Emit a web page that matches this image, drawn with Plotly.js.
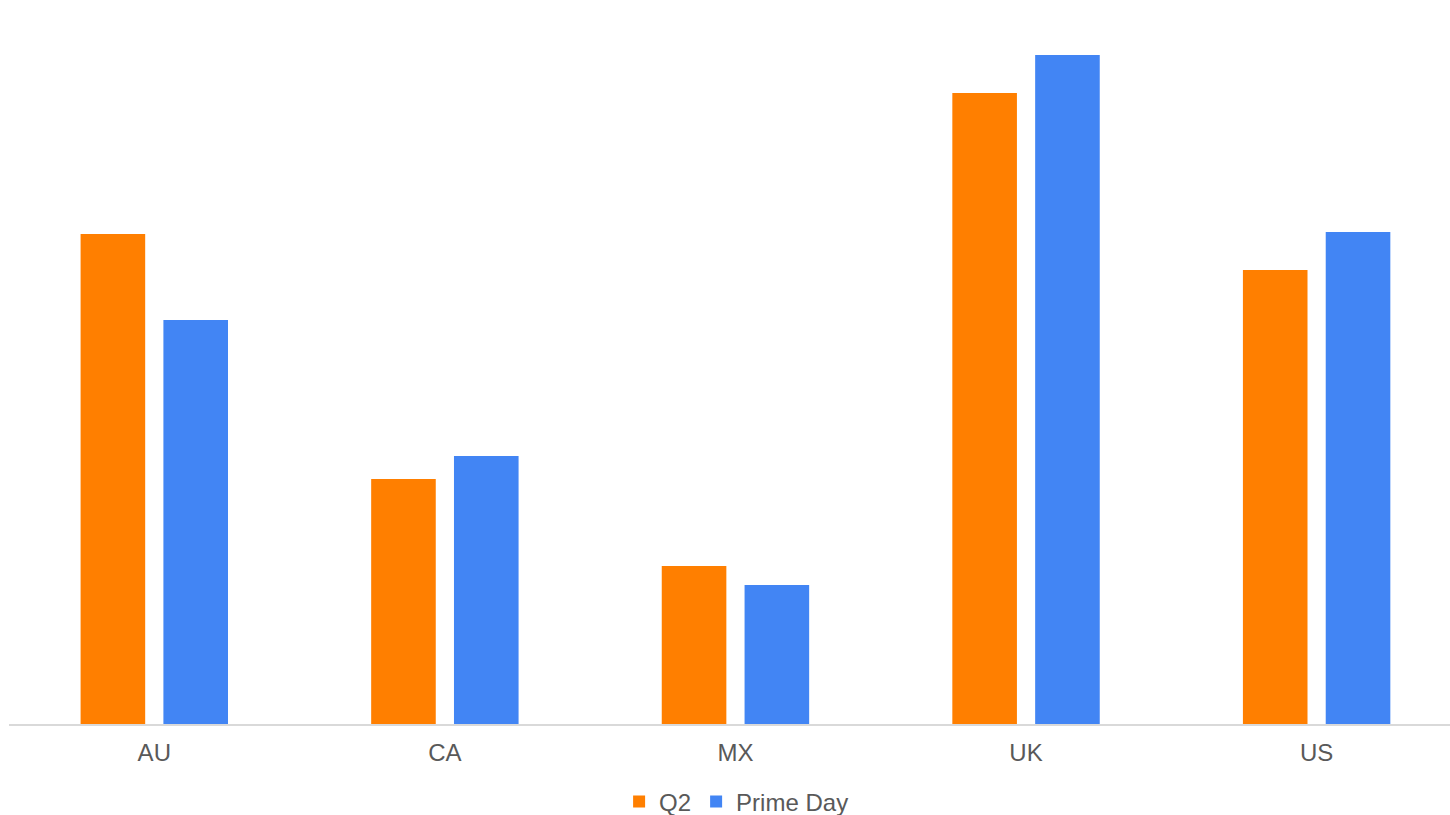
<!DOCTYPE html>
<html><head><meta charset="utf-8">
<script src="https://cdn.plot.ly/plotly-3.0.1.min.js"></script>
<style>html,body{margin:0;padding:0;overflow:hidden;background:#fff}#chart{width:1450px;height:815px}</style>
</head><body><div id="chart"></div>
<script>
const categories = ["AU", "CA", "MX", "UK", "US"];
const q2 = [4.90, 2.45, 1.58, 6.31, 4.54];
const primeDay = [4.04, 2.68, 1.39, 6.69, 4.92];
const seriesNames = ["Q2", "Prime Day"];

const data = [
  {type: "bar", name: seriesNames[0], x: categories, y: q2, marker: {color: "#FF7F00"}, hoverinfo: "x+y+name"},
  {type: "bar", name: seriesNames[1], x: categories, y: primeDay, marker: {color: "#4285F4"}, hoverinfo: "x+y+name"}
];
const layout = {
  width: 1450, height: 815,
  margin: {l: 9, r: 0, t: 0, b: 91},
  paper_bgcolor: "#fff", plot_bgcolor: "#fff",
  barmode: "group", bargap: 0.43, bargroupgap: 0.22,
  font: {family: "Liberation Sans, Arial, sans-serif", size: 24, color: "#595959"},
  xaxis: {range: [-0.5, 4.459], showgrid: false, zeroline: false, showline: true, linecolor: "#D9D9D9", linewidth: 1.5,
          ticks: "", ticklabelstandoff: 7, automargin: false, tickfont: {size: 24, color: "#595959"}},
  yaxis: {range: [0, 7.24], visible: false, showgrid: false, zeroline: false},
  showlegend: true,
  legend: {orientation: "h", x: 0.508, xanchor: "center", xref: "container", yref: "container", y: 0.016, yanchor: "middle",
           font: {size: 24, color: "#595959"}, itemwidth: 30, tracegroupgap: 0}
};
Plotly.newPlot("chart", data, layout, {displayModeBar: false, staticPlot: true});
</script></body></html>
